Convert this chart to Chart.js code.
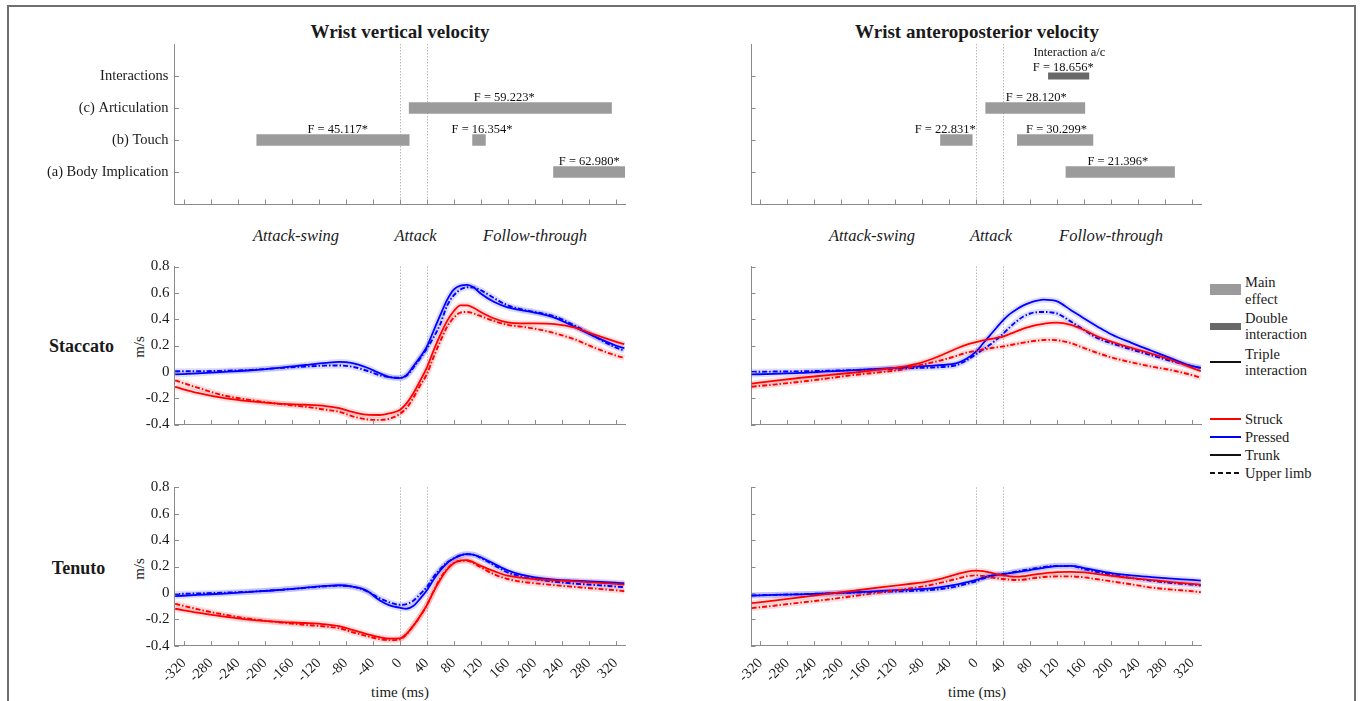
<!DOCTYPE html>
<html>
<head>
<meta charset="utf-8">
<title>Wrist velocity</title>
<script src="https://cdn.jsdelivr.net/npm/chart.js@4.4.1/dist/chart.umd.min.js"></script>
<style>
  html, body { margin: 0; padding: 0; background: #fff; }
  #fig { position: relative; width: 1360px; height: 701px; overflow: hidden; background: #fff;
         font-family: "Liberation Serif", "Times New Roman", serif; color: #1a1a1a; }
  #fig canvas { position: absolute; }
  .frame { position: absolute; left: 7px; top: 5px; width: 1349px; height: 760px;
           border: 2px solid #707070; box-sizing: border-box; }
  .t { position: absolute; transform: translate(-50%, -50%); white-space: nowrap; line-height: 1.1; }
  .title { font-weight: bold; font-size: 19px; }
  .phase { font-style: italic; font-size: 16.5px; }
  .row { font-weight: bold; font-size: 18px; }
  .unit { font-size: 15px; transform: translate(-50%, -50%) rotate(-90deg); }
  .xt { font-size: 15px; }
  .lgt { position: absolute; transform: translateY(-50%); font-size: 14.5px; line-height: 16.6px; white-space: nowrap; }
  .sw { position: absolute; }
</style>
</head>
<body>
<div id="fig">
  <div class="frame"></div>

  <div class="t title" style="left:400px; top:32px;">Wrist vertical velocity</div>
  <div class="t title" style="left:977px; top:32px;">Wrist anteroposterior velocity</div>

  <div class="t phase" style="left:296px; top:236px;">Attack-swing</div>
  <div class="t phase" style="left:415.5px; top:236px;">Attack</div>
  <div class="t phase" style="left:535px; top:236px;">Follow-through</div>
  <div class="t phase" style="left:872px; top:236px;">Attack-swing</div>
  <div class="t phase" style="left:991px; top:236px;">Attack</div>
  <div class="t phase" style="left:1111px; top:236px;">Follow-through</div>

  <div class="t row" style="left:81.5px; top:347px;">Staccato</div>
  <div class="t row" style="left:78.5px; top:569px;">Tenuto</div>
  <div class="t unit" style="left:139px; top:347px;">m/s</div>
  <div class="t unit" style="left:139px; top:569px;">m/s</div>

  <div class="t xt" style="left:400px; top:692px;">time (ms)</div>
  <div class="t xt" style="left:977px; top:692px;">time (ms)</div>

  <!-- legend -->
  <div class="sw" style="left:1210px; top:284px; width:31px; height:11px; background:#9b9b9b;"></div>
  <div class="lgt" style="left:1245px; top:291px;">Main<br>effect</div>
  <div class="sw" style="left:1210px; top:323px; width:31px; height:6.5px; background:#686868;"></div>
  <div class="lgt" style="left:1245px; top:326.5px;">Double<br>interaction</div>
  <div class="sw" style="left:1210px; top:361px; width:31px; height:2px; background:#111;"></div>
  <div class="lgt" style="left:1245px; top:362.5px;">Triple<br>interaction</div>

  <div class="sw" style="left:1210px; top:418px; width:31px; height:2px; background:#ff0000;"></div>
  <div class="lgt" style="left:1245px; top:419px;">Struck</div>
  <div class="sw" style="left:1210px; top:436px; width:31px; height:2px; background:#0000ff;"></div>
  <div class="lgt" style="left:1245px; top:437px;">Pressed</div>
  <div class="sw" style="left:1210px; top:453.5px; width:31px; height:2px; background:#111;"></div>
  <div class="lgt" style="left:1245px; top:454.5px;">Trunk</div>
  <div class="sw" style="left:1210px; top:471.5px; width:31px; height:2px;
       background:repeating-linear-gradient(to right, #111 0 5px, transparent 5px 8px);"></div>
  <div class="lgt" style="left:1245px; top:472.5px;">Upper limb</div>
</div>

<script>
// ---- time base (ms relative to key attack) ----
const timeMs = [-333, -300, -260, -220, -180, -140, -110, -90, -70, -50,
                -30, -15, 0, 10, 20, 30, 40, 50, 60, 70,
                80, 90, 100, 110, 120, 140, 160, 180, 200, 230,
                260, 290, 320, 333];
const timeTicks = [-320, -280, -240, -200, -160, -120, -80, -40, 0, 40, 80, 120, 160, 200, 240, 280, 320];
const velTicks = [-0.4, -0.2, 0, 0.2, 0.4, 0.6, 0.8];
const attackWindow = [0, 40];

// ---- wrist vertical velocity, staccato (m/s) ----
const vStacStruckTrunk = [-0.115, -0.16, -0.2, -0.225, -0.242, -0.25, -0.26, -0.275, -0.305, -0.325,
  -0.328, -0.315, -0.29, -0.24, -0.165, -0.07, 0.03, 0.16, 0.28, 0.385,
  0.46, 0.505, 0.505, 0.485, 0.455, 0.405, 0.375, 0.368, 0.368, 0.362,
  0.335, 0.28, 0.23, 0.21];
const vStacStruckUpper = [-0.065, -0.12, -0.18, -0.215, -0.243, -0.265, -0.288, -0.303, -0.338, -0.36,
  -0.365, -0.355, -0.32, -0.275, -0.2, -0.105, -0.02, 0.11, 0.23, 0.34,
  0.41, 0.45, 0.455, 0.443, 0.423, 0.385, 0.357, 0.343, 0.328, 0.293,
  0.245, 0.18, 0.125, 0.105];
const vStacPressedTrunk = [-0.02, -0.012, 0.0, 0.012, 0.03, 0.052, 0.068, 0.075, 0.066, 0.035,
  -0.01, -0.04, -0.048, -0.025, 0.04, 0.11, 0.19, 0.31, 0.43, 0.545,
  0.625, 0.655, 0.66, 0.64, 0.595, 0.53, 0.49, 0.468, 0.45, 0.41,
  0.34, 0.265, 0.2, 0.18];
const vStacPressedUpper = [0.005, 0.005, 0.008, 0.015, 0.028, 0.04, 0.047, 0.048, 0.038, 0.01,
  -0.025, -0.04, -0.045, -0.03, 0.03, 0.1, 0.175, 0.26, 0.36, 0.5,
  0.58, 0.625, 0.642, 0.64, 0.62, 0.56, 0.505, 0.475, 0.455, 0.42,
  0.35, 0.265, 0.185, 0.16];

// ---- wrist vertical velocity, tenuto (m/s) ----
const vTenStruckTrunk = [-0.12, -0.15, -0.18, -0.205, -0.22, -0.228, -0.238, -0.252, -0.28, -0.31,
  -0.335, -0.347, -0.345, -0.31, -0.25, -0.176, -0.095, 0.01, 0.1, 0.175,
  0.225, 0.247, 0.249, 0.23, 0.205, 0.165, 0.13, 0.115, 0.105, 0.095,
  0.087, 0.078, 0.068, 0.063];
const vTenStruckUpper = [-0.083, -0.123, -0.165, -0.198, -0.222, -0.242, -0.255, -0.268, -0.298, -0.325,
  -0.35, -0.358, -0.352, -0.315, -0.25, -0.18, -0.095, 0.01, 0.11, 0.18,
  0.225, 0.242, 0.243, 0.223, 0.195, 0.14, 0.105, 0.085, 0.073, 0.058,
  0.045, 0.032, 0.02, 0.013];
const vTenPressedTrunk = [-0.025, -0.015, -0.005, 0.008, 0.022, 0.04, 0.053, 0.058, 0.048, 0.02,
  -0.055, -0.095, -0.112, -0.12, -0.1, -0.045, 0.018, 0.1, 0.17, 0.225,
  0.26, 0.285, 0.293, 0.288, 0.27, 0.22, 0.17, 0.138, 0.118, 0.1,
  0.092, 0.085, 0.077, 0.073];
const vTenPressedUpper = [-0.008, -0.004, 0.002, 0.01, 0.022, 0.038, 0.05, 0.055, 0.047, 0.015,
  -0.04, -0.072, -0.09, -0.085, -0.06, -0.01, 0.043, 0.12, 0.18, 0.23,
  0.262, 0.285, 0.293, 0.288, 0.265, 0.21, 0.155, 0.125, 0.105, 0.085,
  0.07, 0.06, 0.048, 0.043];

// ---- wrist anteroposterior velocity, staccato (m/s) ----
const aStacStruckTrunk = [-0.09, -0.068, -0.045, -0.025, -0.005, 0.018, 0.038, 0.058, 0.09, 0.13,
  0.175, 0.205, 0.225, 0.238, 0.248, 0.258, 0.268, 0.288, 0.308, 0.328,
  0.343, 0.357, 0.365, 0.372, 0.373, 0.356, 0.318, 0.268, 0.23, 0.182,
  0.137, 0.088, 0.03, 0.005];
const aStacStruckUpper = [-0.113, -0.097, -0.075, -0.05, -0.023, -0.002, 0.018, 0.044, 0.066, 0.09,
  0.12, 0.145, 0.16, 0.17, 0.178, 0.186, 0.193, 0.203, 0.212, 0.222,
  0.23, 0.237, 0.242, 0.243, 0.24, 0.218, 0.18, 0.143, 0.11, 0.072,
  0.04, 0.012, -0.025, -0.045];
const aStacPressedTrunk = [-0.02, -0.015, -0.008, 0.003, 0.013, 0.024, 0.033, 0.04, 0.046, 0.052,
  0.065, 0.098, 0.155, 0.215, 0.275, 0.335, 0.393, 0.44, 0.475, 0.505,
  0.525, 0.54, 0.548, 0.545, 0.535, 0.47, 0.405, 0.343, 0.285, 0.22,
  0.16, 0.1, 0.043, 0.03];
const aStacPressedUpper = [0.0, 0.002, 0.004, 0.008, 0.014, 0.02, 0.026, 0.029, 0.032, 0.037,
  0.05, 0.085, 0.135, 0.17, 0.205, 0.245, 0.29, 0.34, 0.385, 0.42,
  0.443, 0.453, 0.455, 0.452, 0.443, 0.383, 0.318, 0.255, 0.218, 0.17,
  0.125, 0.08, 0.043, 0.03];

// ---- wrist anteroposterior velocity, tenuto (m/s) ----
const aTenStruckTrunk = [-0.078, -0.058, -0.033, -0.008, 0.018, 0.043, 0.06, 0.073, 0.088, 0.11,
  0.14, 0.16, 0.168, 0.165, 0.155, 0.142, 0.132, 0.125, 0.123, 0.127,
  0.135, 0.142, 0.148, 0.153, 0.157, 0.16, 0.155, 0.143, 0.13, 0.112,
  0.097, 0.082, 0.068, 0.063];
const aTenStruckUpper = [-0.115, -0.097, -0.073, -0.05, -0.023, 0.005, 0.025, 0.04, 0.058, 0.08,
  0.105, 0.125, 0.133, 0.128, 0.12, 0.11, 0.105, 0.1, 0.098, 0.1,
  0.108, 0.115, 0.12, 0.123, 0.125, 0.125, 0.118, 0.103, 0.088, 0.065,
  0.04, 0.025, 0.013, 0.005];
const aTenPressedTrunk = [-0.02, -0.015, -0.011, -0.004, 0.005, 0.015, 0.022, 0.027, 0.033, 0.045,
  0.062, 0.08, 0.098, 0.115, 0.128, 0.137, 0.143, 0.15, 0.158, 0.165,
  0.173, 0.182, 0.19, 0.198, 0.203, 0.205, 0.188, 0.168, 0.15, 0.133,
  0.12, 0.108, 0.098, 0.093];
const aTenPressedUpper = [-0.02, -0.015, -0.01, -0.004, 0.002, 0.008, 0.012, 0.016, 0.021, 0.031,
  0.048, 0.068, 0.088, 0.108, 0.125, 0.136, 0.143, 0.152, 0.162, 0.172,
  0.18, 0.188, 0.196, 0.202, 0.205, 0.205, 0.18, 0.158, 0.138, 0.113,
  0.092, 0.075, 0.063, 0.055];

// ---- significant windows (ms) with F statistics ----
const effectRows = ['(a) Body Implication', '(b) Touch', '(c) Articulation', 'Interactions'];

const vertMainRow   = [1, 2, 2, 3];
const vertMainStart = [228, -212, 108, 14];
const vertMainEnd   = [334, 14, 127, 314];
const vertMainF     = ['62.980', '45.117', '16.354', '59.223'];
const vertMainFAt   = [281, -92, 122, 155];

const apMainRow   = [1, 2, 2, 3];
const apMainStart = [133, -53, 61, 14];
const apMainEnd   = [294, -6, 173, 161];
const apMainF     = ['21.396', '22.831', '30.299', '28.120'];
const apMainFAt   = [210, -46, 119, 89];

const apInterRow   = [4];
const apInterStart = [107];
const apInterEnd   = [167];
const apInterF     = ['18.656'];
const apInterFAt   = [129];
const apInterName  = ['Interaction a/c'];
const apInterNameAt = [138];

// ---- drawing ----
const SERIF = '"Liberation Serif", "Times New Roman", serif';
Chart.defaults.font.family = SERIF;
Chart.defaults.color = '#1a1a1a';
const axisGrey = '#8a8a8a';
const RED = '#ff0000', BLUE = '#0000ff';
const MAIN_GREY = '#9b9b9b', INTER_GREY = '#686868';
const MAIN_THICK = 11, INTER_THICK = 6.5;

const panelDecor = {
  id: 'panelDecor',
  beforeDatasetsDraw(chart) {
    const { ctx, chartArea: a, scales: { x } } = chart;
    ctx.save();
    ctx.strokeStyle = '#b8b8b8';
    ctx.lineWidth = 1;
    ctx.setLineDash([1.5, 1.5]);
    attackWindow.forEach(m => {
      const px = Math.round(x.getPixelForValue(m)) + 0.5;
      ctx.beginPath(); ctx.moveTo(px, a.top); ctx.lineTo(px, a.bottom); ctx.stroke();
    });
    ctx.restore();
  },
  afterDatasetsDraw(chart, args, opts) {
    const { ctx, chartArea: a, scales: { x, y } } = chart;
    ctx.save();
    ctx.strokeStyle = axisGrey;
    ctx.lineWidth = 1;
    ctx.setLineDash([]);
    const tl = 4.5;
    x.ticks.forEach(t => {
      const px = Math.round(x.getPixelForValue(t.value)) + 0.5;
      ctx.beginPath(); ctx.moveTo(px, a.bottom); ctx.lineTo(px, a.bottom - tl); ctx.stroke();
    });
    y.ticks.forEach(t => {
      const py = Math.round(y.getPixelForValue(t.value)) + 0.5;
      ctx.beginPath(); ctx.moveTo(a.left, py); ctx.lineTo(a.left + tl, py); ctx.stroke();
    });
    (opts.notes || []).forEach(n => {
      ctx.font = '12.5px ' + SERIF;
      ctx.fillStyle = '#111';
      ctx.textAlign = 'center';
      ctx.textBaseline = 'alphabetic';
      const base = y.getPixelForValue(n.row) - n.thick / 2 - 2;
      n.lines.forEach((ln, k) => {
        const depth = n.lines.length - 1 - k;
        ctx.fillText(ln.text, x.getPixelForValue(ln.at), base - depth * 14.7);
      });
    });
    ctx.restore();
  }
};
Chart.register(panelDecor);

function addCanvas(r) {
  const c = document.createElement('canvas');
  c.width = r.w; c.height = r.h;
  c.style.left = r.x + 'px'; c.style.top = r.y + 'px';
  c.style.width = r.w + 'px'; c.style.height = r.h + 'px';
  document.getElementById('fig').appendChild(c);
  return c;
}

function geometry(r, area) {
  return { yW: area.l - r.x, padTop: area.t - r.y, padRight: r.x + r.w - area.r, xH: r.y + r.h - area.b };
}

const noGrid = { display: false, drawTicks: false, tickLength: 0 };

function timeScale(g, showLabels) {
  return {
    type: 'linear', min: -334, max: 334, offset: false,
    grid: noGrid,
    border: { display: true, color: axisGrey, width: 1 },
    afterBuildTicks: s => { s.ticks = timeTicks.map(v => ({ value: v })); },
    ticks: { display: showLabels, autoSkip: false, minRotation: 45, maxRotation: 45, padding: 9,
             color: '#1a1a1a', font: { size: 14.5, family: SERIF }, callback: v => String(v) },
    afterFit: s => { s.height = g.xH; s.paddingLeft = 0; s.paddingRight = 0; }
  };
}

function velScale(g, showLabels) {
  return {
    type: 'linear', min: -0.4, max: 0.8, offset: false,
    grid: noGrid,
    border: { display: true, color: axisGrey, width: 1 },
    afterBuildTicks: s => { s.ticks = velTicks.map(v => ({ value: v })); },
    ticks: { display: showLabels, padding: 5, color: '#1a1a1a', font: { size: 15, family: SERIF },
             callback: v => (v === 0 ? '0' : Number(v).toFixed(1)) },
    afterFit: s => { s.width = g.yW; s.paddingTop = 0; s.paddingBottom = 0; }
  };
}

function rowScale(g, showLabels) {
  return {
    type: 'linear', min: 0, max: 5, offset: false,
    grid: noGrid,
    border: { display: true, color: axisGrey, width: 1 },
    afterBuildTicks: s => { s.ticks = [1, 2, 3, 4].map(v => ({ value: v })); },
    ticks: { display: showLabels, padding: 6, color: '#1a1a1a', font: { size: 14.5, family: SERIF },
             callback: v => effectRows[v - 1] },
    afterFit: s => { s.width = g.yW; s.paddingTop = 0; s.paddingBottom = 0; }
  };
}

const lineCommon = { pointRadius: 0, cubicInterpolationMode: 'monotone', fill: false, borderCapStyle: 'butt' };

function curveSets(series) {
  const sets = [];
  series.forEach(s => {
    const pts = timeMs.map((t, i) => ({ x: t, y: s.values[i] }));
    sets.push(Object.assign({ data: pts, borderColor: s.band, borderWidth: 6, order: 2 }, lineCommon));
  });
  series.forEach(s => {
    const pts = timeMs.map((t, i) => ({ x: t, y: s.values[i] }));
    sets.push(Object.assign({ data: pts, borderColor: s.colour, borderWidth: s.upper ? 1.9 : 1.8,
      borderDash: s.upper ? [5, 2, 1.5, 2] : [], order: 1 }, lineCommon));
  });
  return sets;
}

const RED_BAND = 'rgba(255,0,0,0.13)', BLUE_BAND = 'rgba(0,0,255,0.13)';
function fourSeries(st, su, pt, pu) {
  return [
    { values: st, colour: RED, band: RED_BAND, upper: false },
    { values: su, colour: RED, band: RED_BAND, upper: true },
    { values: pt, colour: BLUE, band: BLUE_BAND, upper: false },
    { values: pu, colour: BLUE, band: BLUE_BAND, upper: true }
  ];
}

function curvePanel(rect, area, series, opts) {
  const g = geometry(rect, area);
  new Chart(addCanvas(rect), {
    type: 'line',
    data: { datasets: curveSets(series) },
    options: {
      responsive: false, animation: false, devicePixelRatio: 1,
      layout: { padding: { top: g.padTop, right: g.padRight, left: 0, bottom: 0 } },
      plugins: { legend: { display: false }, tooltip: { enabled: false }, panelDecor: {} },
      scales: { x: timeScale(g, opts.xLabels), y: velScale(g, opts.yLabels) }
    }
  });
}

function barSet(rows, starts, ends, colour, thick) {
  return {
    data: rows.map((r, i) => ({ x: [starts[i], ends[i]], y: r })),
    backgroundColor: colour, borderWidth: 0, barThickness: thick, grouped: false
  };
}

function effectPanel(rect, area, datasets, notes, showRowNames) {
  const g = geometry(rect, area);
  new Chart(addCanvas(rect), {
    type: 'bar',
    data: { datasets },
    options: {
      indexAxis: 'y',
      responsive: false, animation: false, devicePixelRatio: 1,
      layout: { padding: { top: g.padTop, right: g.padRight, left: 0, bottom: 0 } },
      plugins: { legend: { display: false }, tooltip: { enabled: false }, panelDecor: { notes } },
      scales: { x: timeScale(g, false), y: rowScale(g, showRowNames) }
    }
  });
}

// plot areas
const LEFT = { l: 174.5, r: 625 }, RIGHT = { l: 751, r: 1201.5 };
const TOPROW = { t: 44, b: 204 }, STAC = { t: 266.5, b: 424.5 }, TEN = { t: 487.3, b: 645.7 };
const area = (c, r) => ({ l: c.l, r: c.r, t: r.t, b: r.b });

// effect windows
effectPanel({ x: 30, y: 34, w: 600, h: 176 }, area(LEFT, TOPROW),
  [barSet(vertMainRow, vertMainStart, vertMainEnd, MAIN_GREY, MAIN_THICK)],
  vertMainRow.map((r, i) => ({ row: r, thick: MAIN_THICK,
    lines: [{ text: 'F = ' + vertMainF[i] + '*', at: vertMainFAt[i] }] })),
  true);

effectPanel({ x: 730, y: 34, w: 477, h: 176 }, area(RIGHT, TOPROW),
  [barSet(apMainRow, apMainStart, apMainEnd, MAIN_GREY, MAIN_THICK),
   barSet(apInterRow, apInterStart, apInterEnd, INTER_GREY, INTER_THICK)],
  apMainRow.map((r, i) => ({ row: r, thick: MAIN_THICK,
    lines: [{ text: 'F = ' + apMainF[i] + '*', at: apMainFAt[i] }] }))
    .concat(apInterRow.map((r, i) => ({ row: r, thick: INTER_THICK,
      lines: [{ text: apInterName[i], at: apInterNameAt[i] },
              { text: 'F = ' + apInterF[i] + '*', at: apInterFAt[i] }] }))),
  false);

// velocity curves
curvePanel({ x: 120, y: 256, w: 510, h: 174 }, area(LEFT, STAC),
  fourSeries(vStacStruckTrunk, vStacStruckUpper, vStacPressedTrunk, vStacPressedUpper),
  { xLabels: false, yLabels: true });
curvePanel({ x: 730, y: 256, w: 477, h: 174 }, area(RIGHT, STAC),
  fourSeries(aStacStruckTrunk, aStacStruckUpper, aStacPressedTrunk, aStacPressedUpper),
  { xLabels: false, yLabels: false });
curvePanel({ x: 120, y: 477, w: 510, h: 224 }, area(LEFT, TEN),
  fourSeries(vTenStruckTrunk, vTenStruckUpper, vTenPressedTrunk, vTenPressedUpper),
  { xLabels: true, yLabels: true });
curvePanel({ x: 715, y: 477, w: 492, h: 224 }, area(RIGHT, TEN),
  fourSeries(aTenStruckTrunk, aTenStruckUpper, aTenPressedTrunk, aTenPressedUpper),
  { xLabels: true, yLabels: false });
</script>
</body>
</html>
